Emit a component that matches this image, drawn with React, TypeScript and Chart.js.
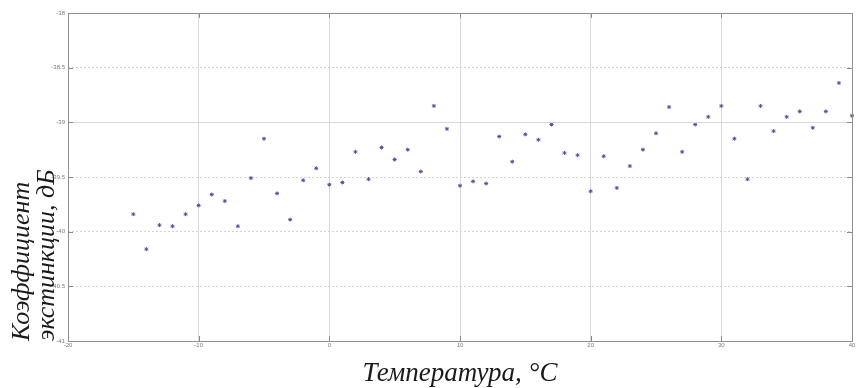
import React, { useEffect, useRef } from "react";
import { Chart, registerables } from "chart.js";

Chart.register(...registerables);

const temperatures = [
  -15, -14, -13, -12, -11, -10, -9, -8, -7, -6, -5, -4, -3, -2, -1, 0, 1, 2, 3, 4,
  5, 6, 7, 8, 9, 10, 11, 12, 13, 14, 15, 16, 17, 18, 19, 20, 21, 22, 23, 24, 25,
  26, 27, 28, 29, 30, 31, 32, 33, 34, 35, 36, 37, 38, 39, 40,
];
const extinction = [
  -39.84, -40.16, -39.94, -39.95, -39.84, -39.76, -39.66, -39.72, -39.95, -39.51,
  -39.15, -39.65, -39.89, -39.53, -39.42, -39.57, -39.55, -39.27, -39.52, -39.23,
  -39.34, -39.25, -39.45, -38.85, -39.06, -39.58, -39.54, -39.56, -39.13, -39.36,
  -39.11, -39.16, -39.02, -39.28, -39.3, -39.63, -39.31, -39.6, -39.4, -39.25,
  -39.1, -38.86, -39.27, -39.02, -38.95, -38.85, -39.15, -39.52, -38.85, -39.08,
  -38.95, -38.9, -39.05, -38.9, -38.64, -38.94,
];
const xTitle = "Температура, °С";
const yTitle = ["Коэффициент", "экстинкции, дБ"];
const xMin = -20;
const xMax = 40;
const xStep = 10;
const yMin = -41;
const yMax = -38;
const yStep = 0.5;
const solidYGrid = [-39];

const framePlugin = {
  id: "frameTicks",
  afterDatasetsDraw(chart: any) {
    const { ctx, chartArea, scales } = chart;
    const { left, right, top, bottom } = chartArea;
    ctx.save();
    ctx.strokeStyle = "#d9d9d9";
    ctx.lineWidth = 1;
    solidYGrid.forEach((v) => {
      const y = Math.round(scales.y.getPixelForValue(v)) + 0.5;
      ctx.beginPath();
      ctx.moveTo(left, y);
      ctx.lineTo(right, y);
      ctx.stroke();
    });
    ctx.strokeStyle = "#8a8a8a";
    const tl = 5;
    scales.x.ticks.forEach((t: any) => {
      const x = Math.round(scales.x.getPixelForValue(t.value)) + 0.5;
      ctx.beginPath();
      ctx.moveTo(x, bottom);
      ctx.lineTo(x, bottom - tl);
      ctx.moveTo(x, top);
      ctx.lineTo(x, top + tl);
      ctx.stroke();
    });
    scales.y.ticks.forEach((t: any) => {
      const y = Math.round(scales.y.getPixelForValue(t.value)) + 0.5;
      ctx.beginPath();
      ctx.moveTo(left, y);
      ctx.lineTo(left + tl, y);
      ctx.moveTo(right, y);
      ctx.lineTo(right - tl, y);
      ctx.stroke();
    });
    ctx.strokeStyle = "#8f8f8f";
    ctx.strokeRect(Math.round(left) + 0.5, Math.round(top) + 0.5, Math.round(right - left), Math.round(bottom - top));
    ctx.restore();
  },
};

export default function App() {
  const ref = useRef<HTMLCanvasElement | null>(null);
  useEffect(() => {
    if (!ref.current) return;
    const chart = new Chart(ref.current, {
      type: "scatter",
      data: {
        datasets: [
          {
            data: temperatures.map((t, i) => ({ x: t, y: extinction[i] })),
            pointStyle: "star",
            radius: 2,
            borderWidth: 1,
            borderColor: "#5b4da6",
            backgroundColor: "#5b4da6",
            clip: false as any,
          },
        ],
      },
      options: {
        responsive: false,
        animation: false,
        events: [],
        layout: { padding: { left: 0, top: 13, right: 9, bottom: 0 } },
        plugins: { legend: { display: false }, tooltip: { enabled: false } },
        scales: {
          x: {
            type: "linear",
            min: xMin,
            max: xMax,
            afterFit: (s: any) => {
              s.height = 47;
            },
            ticks: {
              stepSize: xStep,
              padding: 1,
              color: "#7a7a7a",
              font: { family: "Liberation Sans", size: 6 },
              maxRotation: 0,
              callback: (v: any) => String(Number(v)),
            },
            grid: { color: "#d9d9d9", drawTicks: false },
            border: { display: false },
            title: {
              display: true,
              text: xTitle,
              color: "#1a1a1a",
              font: { family: "Liberation Serif", style: "italic", size: 27, lineHeight: "28px" as any },
              padding: { top: 0, bottom: 0 },
            },
          },
          y: {
            type: "linear",
            min: yMin,
            max: yMax,
            afterFit: (s: any) => {
              s.width = 68;
            },
            ticks: {
              stepSize: yStep,
              padding: 3,
              color: "#7a7a7a",
              font: { family: "Liberation Sans", size: 6 },
              callback: (v: any) => String(Number(v)),
            },
            grid: {
              color: (c: any) =>
                c.tick && (c.tick.value === yMin || c.tick.value === yMax || solidYGrid.includes(c.tick.value))
                  ? "rgba(0,0,0,0)"
                  : "#d3d3d3",
              drawTicks: false,
            },
            border: { display: false, dash: [2, 2] },
            title: {
              display: true,
              text: yTitle,
              align: "start",
              color: "#1a1a1a",
              font: { family: "Liberation Serif", style: "italic", size: 26, lineHeight: "25px" as any },
              padding: { top: 10, bottom: 0 },
            },
          },
        },
      },
      plugins: [framePlugin],
    });
    return () => chart.destroy();
  }, []);
  return (
    <div style={{ position: "absolute", left: 0, top: 0, width: 861, height: 388, background: "#fff" }}>
      <canvas ref={ref} width={861} height={388} />
    </div>
  );
}
